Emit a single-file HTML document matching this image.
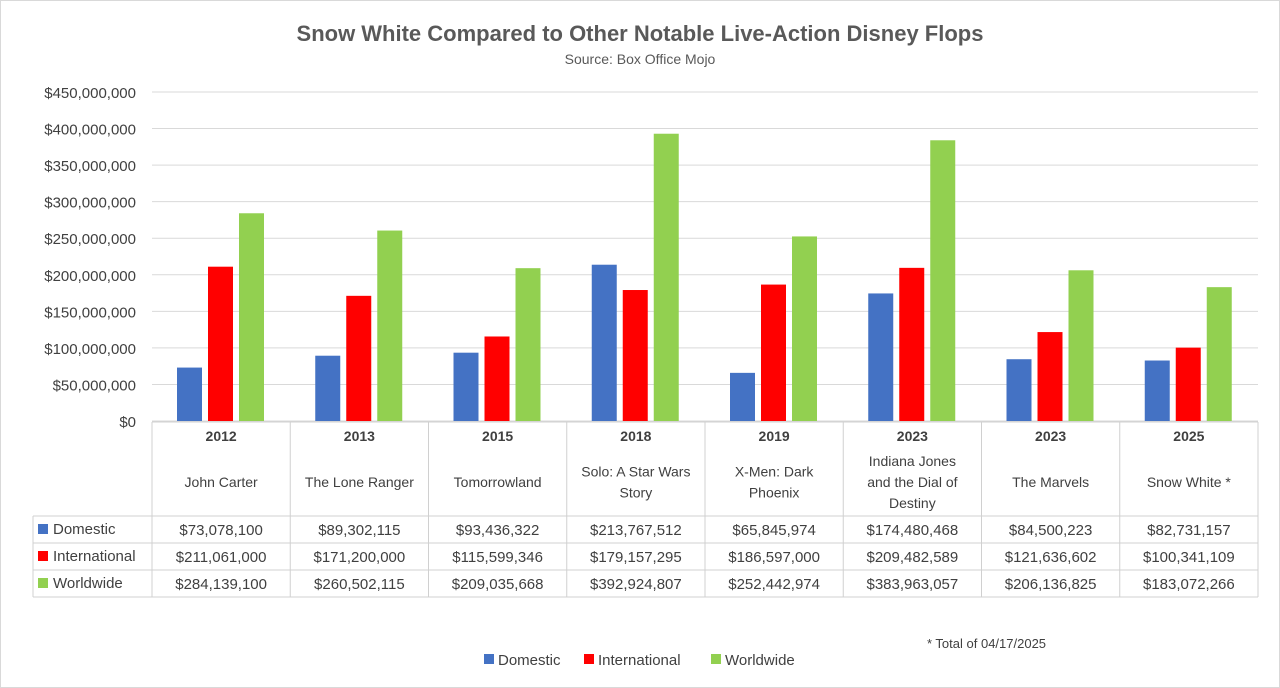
<!DOCTYPE html>
<html><head><meta charset="utf-8"><style>
body{margin:0;background:#fff;}
svg{display:block;font-family:"Liberation Sans",Arial,sans-serif;}
</style></head><body>
<svg id="c" width="1280" height="688">
<rect x="0.5" y="0.5" width="1279" height="687" fill="#fff" stroke="#d9d9d9"/>
<text x="640" y="41" text-anchor="middle" font-size="22" font-weight="bold" fill="#595959">Snow White Compared to Other Notable Live-Action Disney Flops</text>
<text x="640" y="64" text-anchor="middle" font-size="14" fill="#595959">Source: Box Office Mojo</text>
<g id="grid"></g><g id="bars"></g><g id="table"></g>
<text x="927" y="648" font-size="13" fill="#404040">* Total of 04/17/2025</text>
<g id="legend"></g>
</svg>
<script>
const years=["2012","2013","2015","2018","2019","2023","2023","2025"];
const titles=[["John Carter"],["The Lone Ranger"],["Tomorrowland"],["Solo: A Star Wars","Story"],["X-Men: Dark","Phoenix"],["Indiana Jones","and the Dial of","Destiny"],["The Marvels"],["Snow White *"]];
const domestic=[73078100,89302115,93436322,213767512,65845974,174480468,84500223,82731157];
const international=[211061000,171200000,115599346,179157295,186597000,209482589,121636602,100341109];
const worldwide=[284139100,260502115,209035668,392924807,252442974,383963057,206136825,183072266];
const ticks=[0,50000000,100000000,150000000,200000000,250000000,300000000,350000000,400000000,450000000];
const seriesNames=["Domestic","International","Worldwide"];
const colors=["#4472C4","#FF0000","#92D050"];
const NS="http://www.w3.org/2000/svg";
const X0=152,X1=1258,Y0=421,Y1=92,MAX=450000000;
const cw=(X1-X0)/years.length;
const y=v=>Y0-(v/MAX)*(Y0-Y1);
const fmt=v=>"$"+v.toLocaleString("en-US");
function mk(p,t,a,txt){const e=document.createElementNS(NS,t);for(const k in a)e.setAttribute(k,a[k]);if(txt!==undefined)e.textContent=txt;p.appendChild(e);return e;}
const G=document.getElementById("grid"),B=document.getElementById("bars"),T=document.getElementById("table"),L=document.getElementById("legend");
ticks.forEach(t=>{
 const l=mk(G,"line",{x1:X0,x2:X1,y1:y(t),y2:y(t),stroke:"#d9d9d9"});
 
 
 const tx=mk(G,"text",{x:136,y:y(t)+6,"text-anchor":"end","font-size":15,fill:"#404040"},t==0?"$0":fmt(t));
 
 
});
const series=[domestic,international,worldwide];
years.forEach((yr,i)=>{
 series.forEach((s,j)=>{
  const r=mk(B,"rect",{x:X0+i*cw+25+j*31,y:y(s[i]),width:25,height:Y0-y(s[i]),fill:colors[j]});
  
  
 });
});
// table
const stroke="#d0d0d0";
const rowY=[516,543,570,597];
mk(T,"line",{x1:X0,x2:X1,y1:422,y2:422,stroke});
mk(T,"line",{x1:33,x2:X1,y1:516,y2:516,stroke});
rowY.slice(1).forEach(ry=>mk(T,"line",{x1:33,x2:X1,y1:ry,y2:ry,stroke}));
mk(T,"line",{x1:33,x2:33,y1:516,y2:597,stroke});
for(let i=0;i<=years.length;i++){mk(T,"line",{x1:X0+i*cw,x2:X0+i*cw,y1:422,y2:597,stroke});}
years.forEach((yr,i)=>{
 const cx=X0+i*cw+cw/2;
 const a=mk(T,"text",{x:cx,y:441,"text-anchor":"middle","font-size":14,"font-weight":"bold",fill:"#404040"},yr);
 
 
 const n=titles[i].length, base=487-(n-1)*10.5;
 titles[i].forEach((ln,k)=>{
  const b=mk(T,"text",{x:cx,y:base+k*21,"text-anchor":"middle","font-size":14,fill:"#404040"},ln);
  
  
 });
 series.forEach((s,j)=>{
  const c=mk(T,"text",{x:cx,y:rowY[j]+19,"text-anchor":"middle","font-size":15,fill:"#404040"},fmt(s[i]));
  
  
 });
});
seriesNames.forEach((nm,j)=>{
 mk(T,"rect",{x:38,y:rowY[j]+8,width:10,height:10,fill:colors[j]});
 const t=mk(T,"text",{x:53,y:rowY[j]+18,"font-size":15,fill:"#404040"},nm);
 
 
});
const lx=[484,584,711];
seriesNames.forEach((nm,j)=>{
 mk(L,"rect",{x:lx[j],y:654,width:10,height:10,fill:colors[j]});
 const t=mk(L,"text",{x:lx[j]+14,y:665,"font-size":15,fill:"#404040"},nm);
 
 
});
</script>
</body></html>
